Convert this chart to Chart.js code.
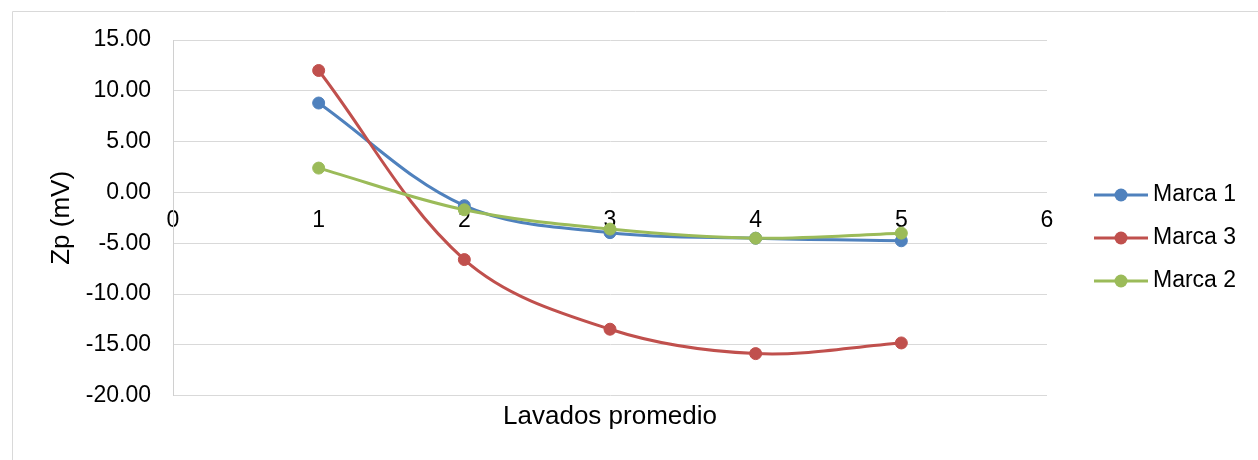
<!DOCTYPE html>
<html>
<head>
<meta charset="utf-8">
<script src="https://cdn.jsdelivr.net/npm/chart.js@4/dist/chart.umd.min.js"></script>
<style>
    html, body { margin: 0; padding: 0; background: #fff; }
    #wrap { width: 1258px; height: 460px; position: relative; }
</style>
</head>
<body>
<div id="wrap"><canvas id="zpChart"></canvas></div>
<script>
// values
const lavados = [1, 2, 3, 4, 5];
const marca1 = [8.8, -1.3, -3.95, -4.5, -4.75];
const marca3 = [12.0, -6.6, -13.45, -15.85, -14.8];
const marca2 = [2.4, -1.7, -3.6, -4.5, -4.0];
const seriesNames = ['Marca 1', 'Marca 3', 'Marca 2'];
const seriesColors = ['#4F81BD', '#C0504D', '#9BBB59'];

const FONT = '"Liberation Sans", Arial, sans-serif';
const GRID = '#D9D9D9';

function toPoints(ys) {
    return lavados.map((x, i) => ({ x: x, y: ys[i] }));
}

// outer frame (only left + top edges show in the reference)
const framePlugin = {
    id: 'frame',
    beforeDraw(chart) {
        const ctx = chart.ctx;
        ctx.save();
        ctx.strokeStyle = GRID;
        ctx.lineWidth = 1;
        ctx.beginPath();
        ctx.moveTo(12.5, chart.height);
        ctx.lineTo(12.5, 11.5);
        ctx.lineTo(chart.width, 11.5);
        ctx.stroke();
        ctx.restore();
    }
};

// excel style legend: line with a marker, then the name
const legendPlugin = {
    id: 'sideLegend',
    afterDraw(chart) {
        const ctx = chart.ctx;
        ctx.save();
        chart.data.datasets.forEach((ds, i) => {
            const y = 195 + i * 43;
            ctx.strokeStyle = ds.borderColor;
            ctx.lineWidth = 3;
            ctx.beginPath();
            ctx.moveTo(1094, y);
            ctx.lineTo(1148, y);
            ctx.stroke();
            ctx.fillStyle = ds.borderColor;
            ctx.beginPath();
            ctx.arc(1121, y, 6.5, 0, Math.PI * 2);
            ctx.fill();
            ctx.fillStyle = '#000';
            ctx.font = '23px ' + FONT;
            ctx.textBaseline = 'middle';
            ctx.textAlign = 'left';
            ctx.fillText(ds.label, 1153, y);
        });
        ctx.restore();
    }
};

const datasets = [marca1, marca3, marca2].map((ys, i) => ({
    label: seriesNames[i],
    data: toPoints(ys),
    showLine: true,
    borderColor: seriesColors[i],
    backgroundColor: seriesColors[i],
    borderWidth: 3,
    pointRadius: 6,
    pointBorderWidth: 1,
    pointHoverRadius: 6,
    tension: 0.35,
    // green on top, then red, blue at the bottom
    order: [2, 1, 0][i]
}));

new Chart(document.getElementById('zpChart'), {
    type: 'scatter',
    data: { datasets: datasets },
    plugins: [framePlugin, legendPlugin],
    options: {
        responsive: true,
        maintainAspectRatio: false,
        animation: false,
        layout: { padding: { left: 0, right: 211, top: 40, bottom: 0 } },
        plugins: {
            legend: { display: false },
            tooltip: { enabled: false },
            title: {
                display: true,
                position: 'bottom',
                fullSize: false,
                text: 'Lavados promedio',
                color: '#000',
                font: { family: FONT, size: 26, weight: 'normal' },
                padding: { top: 5, bottom: 28 }
            }
        },
        scales: {
            x: {
                type: 'linear',
                position: { y: 0 },
                min: 0,
                max: 6,
                grid: { display: false, drawTicks: false },
                border: { display: false },
                ticks: {
                    stepSize: 1,
                    color: '#000',
                    padding: 14,
                    maxRotation: 0,
                    font: { family: FONT, size: 23 }
                }
            },
            y: {
                type: 'linear',
                position: 'left',
                min: -20,
                max: 15,
                afterFit(scale) { scale.width = 173; },
                grid: { color: GRID, lineWidth: 1, drawTicks: false },
                border: { display: true, color: '#D0D0D0', width: 1 },
                ticks: {
                    stepSize: 5,
                    color: '#000',
                    padding: 22,
                    font: { family: FONT, size: 23 },
                    callback: v => v.toFixed(2)
                },
                title: {
                    display: true,
                    text: 'Zp (mV)',
                    color: '#000',
                    font: { family: FONT, size: 26 },
                    padding: { top: 46, bottom: 0 }
                }
            }
        }
    }
});
</script>
</body>
</html>
